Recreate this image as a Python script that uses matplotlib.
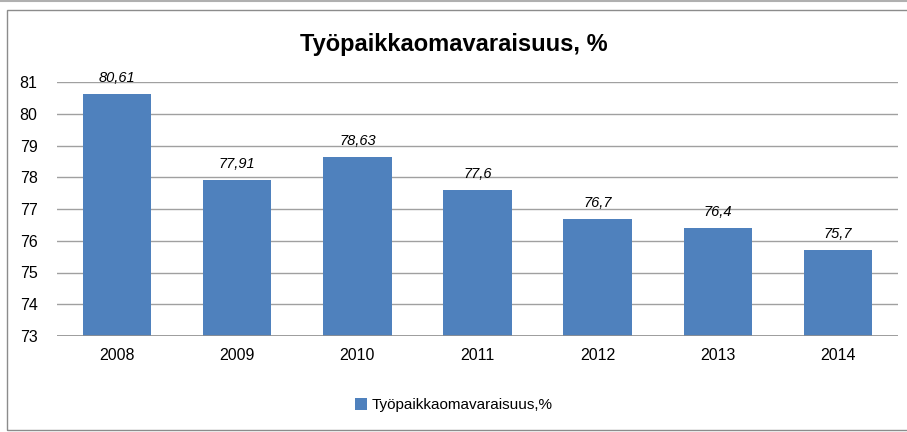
import matplotlib.pyplot as plt
from matplotlib.patches import Rectangle

years = ['2008', '2009', '2010', '2011', '2012', '2013', '2014']
values = [80.61, 77.91, 78.63, 77.6, 76.7, 76.4, 75.7]
labels = ['80,61', '77,91', '78,63', '77,6', '76,7', '76,4', '75,7']
series_name = 'Työpaikkaomavaraisuus,%'

plt.rcParams['font.family'] = ['Liberation Sans', 'DejaVu Sans']

fig = plt.figure(figsize=(9.07, 4.32), dpi=100)
# chart border (right edge runs off the picture)
fig.patches.append(Rectangle((7/907, 2/432), 910/907, 420/432, transform=fig.transFigure,
                             fill=False, edgecolor='#8c8c8c', linewidth=1))
fig.add_artist(plt.Line2D([0, 1], [1-0.5/432, 1-0.5/432], color='#b0b0b0', linewidth=1.5))

ax = fig.add_axes([57/907, 1-336/432, 841/907, 254/432])
x = range(len(years))
bars = ax.bar(x, values, width=0.57, bottom=0, color='#4F81BD', label=series_name, zorder=3)
ax.set_ylim(73, 81)
ax.set_xlim(-0.5, len(years) - 0.5)
ax.set_yticks(range(73, 82))
ax.set_xticks(list(x))
ax.set_xticklabels(years)
ax.tick_params(length=0, labelsize=11.5, pad=9)
ax.tick_params(axis='y', pad=14)
ax.grid(axis='y', color='#a0a0a0', linewidth=1, zorder=0)
for s in ax.spines.values():
    s.set_visible(False)
ax.axhline(73, color='#909090', linewidth=1.2, zorder=4)

for i, v in enumerate(values):
    ax.text(i, v + 0.28, labels[i], ha='center', va='bottom', fontsize=10.5, style='italic', clip_on=False)

fig.text(0.5, 1-44/432, 'Työpaikkaomavaraisuus, %', ha='center', va='center', fontsize=17, fontweight='bold')
fig.legend(handles=[bars], labels=[series_name], loc='center', bbox_to_anchor=(0.5, 1-405/432),
           frameon=False, fontsize=11, handlelength=0.8, handleheight=0.8, handletextpad=0.3)

fig.savefig('out.png', dpi=100)
